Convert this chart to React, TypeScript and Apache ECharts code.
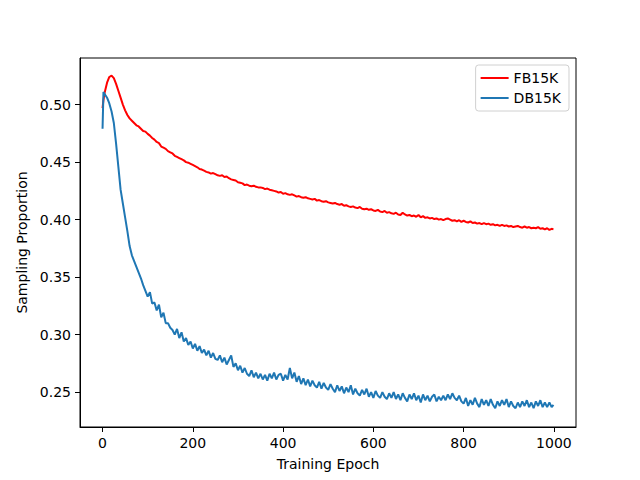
import React, { useEffect, useRef } from "react";
import * as echarts from "echarts";

const epochs: number[] = [0, 2];
for (let e = 5; e <= 995; e += 5) epochs.push(e);
epochs.push(999);

const fb15k: number[] = [
  0.497, 0.504, 0.511, 0.519, 0.524, 0.5252, 0.523, 0.518, 0.512, 0.506,
  0.500, 0.495, 0.491, 0.488, 0.486, 0.484, 0.482, 0.481, 0.479, 0.477,
  0.4765, 0.4745, 0.473, 0.471, 0.4695, 0.4675, 0.4665, 0.4635, 0.4625, 0.4615,
  0.4595, 0.4585, 0.4575, 0.4555, 0.4545, 0.4535, 0.4525, 0.4515, 0.4500, 0.4495,
  0.4485, 0.4475, 0.4465, 0.4455, 0.4440, 0.4435, 0.4425, 0.4415, 0.4410, 0.4400,
  0.4405, 0.4395, 0.4385, 0.4380, 0.4385, 0.4370, 0.4375, 0.4360, 0.4350, 0.4345,
  0.4340, 0.4325, 0.4320, 0.4315, 0.4300, 0.4305, 0.4295, 0.4290, 0.4295, 0.4285,
  0.4280, 0.4280, 0.4275, 0.4265, 0.4270, 0.4260, 0.4255, 0.4250, 0.4245, 0.4235,
  0.4240, 0.4225, 0.4230, 0.4220, 0.4215, 0.4220, 0.4210, 0.4200, 0.4205, 0.4195,
  0.4190, 0.4195, 0.4185, 0.4180, 0.4175, 0.4180, 0.4165, 0.4170, 0.4160, 0.4155,
  0.4160, 0.4150, 0.4145, 0.4140, 0.4145, 0.4135, 0.4130, 0.4135, 0.4120, 0.4125,
  0.4115, 0.4110, 0.4115, 0.4105, 0.4100, 0.4110, 0.4095, 0.4090, 0.4095, 0.4085,
  0.4090, 0.4080, 0.4075, 0.4085, 0.4070, 0.4065, 0.4075, 0.4060, 0.4065, 0.4055,
  0.4050, 0.4060, 0.4045, 0.4040, 0.4060, 0.4045, 0.4035, 0.4040, 0.4030, 0.4035,
  0.4025, 0.4040, 0.4020, 0.4030, 0.4015, 0.4020, 0.4010, 0.4015, 0.4005, 0.4010,
  0.4000, 0.4005, 0.3995, 0.4005, 0.4010, 0.4000, 0.3990, 0.3995, 0.3985, 0.3995,
  0.3980, 0.3990, 0.3980, 0.3975, 0.3985, 0.3970, 0.3975, 0.3965, 0.3970, 0.3960,
  0.3970, 0.3960, 0.3965, 0.3955, 0.3960, 0.3950, 0.3955, 0.3945, 0.3955, 0.3945,
  0.3950, 0.3940, 0.3945, 0.3935, 0.3940, 0.3945, 0.3935, 0.3930, 0.3940, 0.3930,
  0.3935, 0.3925, 0.3930, 0.3925, 0.3935, 0.3920, 0.3925, 0.3915, 0.3925, 0.3910,
  0.3920, 0.3915,
];

const db15k: number[] = [
  0.479, 0.511, 0.509, 0.506, 0.501, 0.494, 0.484, 0.466, 0.446, 0.426,
  0.414, 0.402, 0.390, 0.377, 0.369, 0.364, 0.359, 0.354, 0.349, 0.343,
  0.338, 0.333, 0.337, 0.327, 0.328, 0.321, 0.326, 0.315, 0.319, 0.310,
  0.310, 0.306, 0.304, 0.300, 0.305, 0.297, 0.302, 0.294, 0.297, 0.291,
  0.294, 0.288, 0.292, 0.286, 0.290, 0.284, 0.287, 0.282, 0.286, 0.280,
  0.284, 0.279, 0.278, 0.282, 0.276, 0.280, 0.274, 0.278, 0.282, 0.272,
  0.275, 0.269, 0.273, 0.267, 0.271, 0.266, 0.264, 0.269, 0.263, 0.267,
  0.262, 0.266, 0.261, 0.265, 0.260, 0.266, 0.262, 0.267, 0.261, 0.265,
  0.266, 0.260, 0.265, 0.261, 0.271, 0.262, 0.267, 0.259, 0.264, 0.257,
  0.262, 0.256, 0.261, 0.255, 0.260, 0.256, 0.254, 0.259, 0.253, 0.258,
  0.254, 0.252, 0.257, 0.253, 0.250, 0.256, 0.251, 0.255, 0.249, 0.254,
  0.250, 0.256, 0.248, 0.253, 0.249, 0.247, 0.252, 0.248, 0.253, 0.246,
  0.250, 0.245, 0.251, 0.247, 0.245, 0.250, 0.246, 0.244, 0.249, 0.245,
  0.250, 0.244, 0.248, 0.243, 0.249, 0.245, 0.242, 0.248, 0.244, 0.249,
  0.243, 0.247, 0.241, 0.248, 0.243, 0.247, 0.242, 0.246, 0.248, 0.242,
  0.246, 0.243, 0.247, 0.243, 0.248, 0.244, 0.249, 0.245, 0.243, 0.247,
  0.242, 0.240, 0.245, 0.238, 0.243, 0.239, 0.245, 0.240, 0.237, 0.244,
  0.239, 0.243, 0.238, 0.244, 0.239, 0.236, 0.242, 0.238, 0.243, 0.239,
  0.244, 0.237, 0.242, 0.238, 0.236, 0.241, 0.237, 0.242, 0.238, 0.243,
  0.237, 0.241, 0.236, 0.242, 0.238, 0.243, 0.237, 0.241, 0.237, 0.241,
  0.237, 0.239,
];

const xTicks: number[] = [0, 200, 400, 600, 800, 1000];
const yTicks: number[] = [0.25, 0.3, 0.35, 0.4, 0.45, 0.5];

const FONT = "DejaVu Sans";

export default function App() {
  const ref = useRef<HTMLDivElement>(null);
  useEffect(() => {
    document.body.style.margin = "0";
    const chart = echarts.init(ref.current!, null, { renderer: "svg" });
    const pair = (vals: number[]) => epochs.map((e, i) => [e, vals[i]]);
    chart.setOption({
      animation: false,
      backgroundColor: "#ffffff",
      textStyle: { fontFamily: FONT },
      grid: {
        left: 80,
        right: 64,
        top: 58,
        bottom: 53,
        show: true,
        borderColor: "#000",
        borderWidth: 1,
        backgroundColor: "transparent",
      },
      legend: {
        orient: "vertical",
        right: 71,
        top: 65,
        padding: [4, 8, 4, 5],
        itemGap: 2,
        itemWidth: 28,
        itemHeight: 2,
        icon: "rect",
        borderColor: "#d0d0d0",
        borderWidth: 1,
        borderRadius: 3,
        backgroundColor: "rgba(255,255,255,0.8)",
        textStyle: { fontFamily: FONT, fontSize: 14, color: "#000", lineHeight: 18 },
        data: ["FB15K", "DB15K"],
      },
      xAxis: {
        type: "value",
        min: -49.95,
        max: 1048.95,
        name: "Training Epoch",
        nameLocation: "middle",
        nameGap: 30,
        nameTextStyle: { fontFamily: FONT, fontSize: 14, color: "#000" },
        axisLine: { show: true, onZero: false, lineStyle: { color: "#000", width: 1 } },
        axisTick: { show: true, length: 5, lineStyle: { color: "#000" }, customValues: xTicks },
        axisLabel: {
          customValues: xTicks,
          margin: 9,
          fontFamily: FONT,
          fontSize: 14,
          color: "#000",
          formatter: (v: number) => String(v),
        },
        splitLine: { show: false },
      },
      yAxis: {
        type: "value",
        min: 0.2197,
        max: 0.5405,
        name: "Sampling Proportion",
        nameLocation: "middle",
        nameGap: 43,
        nameTextStyle: { fontFamily: FONT, fontSize: 14, color: "#000" },
        axisLine: { show: true, onZero: false, lineStyle: { color: "#000", width: 1 } },
        axisTick: { show: true, length: 5, lineStyle: { color: "#000" }, customValues: yTicks },
        axisLabel: {
          customValues: yTicks,
          margin: 9,
          fontFamily: FONT,
          fontSize: 14,
          color: "#000",
          formatter: (v: number) => v.toFixed(2),
        },
        splitLine: { show: false },
      },
      series: [
        {
          name: "FB15K",
          type: "line",
          data: pair(fb15k),
          showSymbol: false,
          symbol: "none",
          lineStyle: { color: "#ff0000", width: 2 },
          itemStyle: { color: "#ff0000" },
        },
        {
          name: "DB15K",
          type: "line",
          data: pair(db15k),
          showSymbol: false,
          symbol: "none",
          lineStyle: { color: "#1f77b4", width: 2 },
          itemStyle: { color: "#1f77b4" },
        },
      ],
    });
    return () => chart.dispose();
  }, []);
  return (
    <div
      ref={ref}
      style={{ position: "fixed", left: 0, top: 0, width: 640, height: 480 }}
    />
  );
}
